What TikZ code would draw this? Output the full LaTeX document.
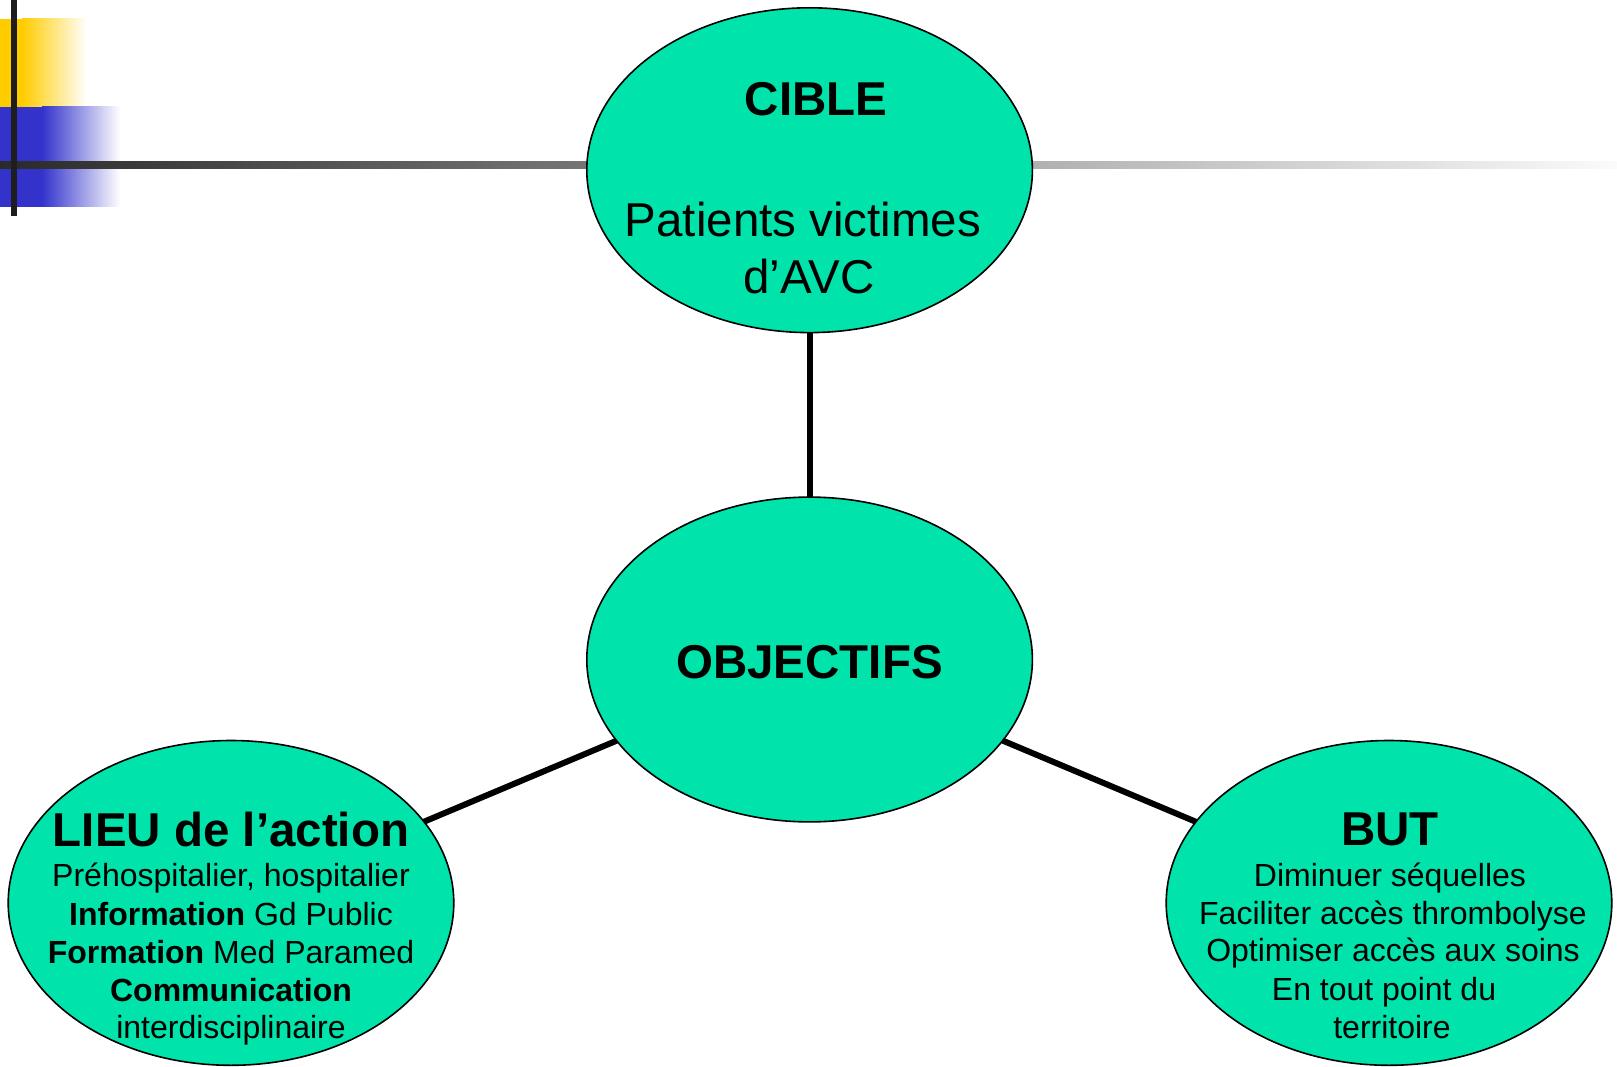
\documentclass[tikz,border=0pt]{standalone}
\usepackage{fontspec}
\setmainfont{Liberation Sans}
\usetikzlibrary{shapes.geometric}
\definecolor{oval}{HTML}{00E3AA}
\definecolor{ybar}{rgb}{1,0.8,0}
\definecolor{bbar}{HTML}{3333CC}
\definecolor{rulel}{HTML}{2A2A2A}
\definecolor{ruler}{HTML}{FBFBFB}
\definecolor{vbar}{HTML}{1E1E1E}
\tikzset{
  bubble/.style={ellipse, draw=black, line width=1.6pt, fill=oval, inner sep=0pt, outer sep=0pt,
    minimum width=445.6pt, minimum height=324.8pt},
  link/.style={line width=6pt, black},
  big/.style={font=\fontsize{47.5}{57}\selectfont\bfseries, anchor=base, inner sep=0pt},
  bigr/.style={font=\fontsize{47.5}{57}\selectfont, anchor=base, inner sep=0pt},
  small/.style={font=\fontsize{32}{38.5}\selectfont, anchor=base, inner sep=0pt}
}
\begin{document}
\begin{tikzpicture}[x=1pt,y=-1pt]
\useasboundingbox (0,0) rectangle (1617,1067);
\fill[white] (0,0) rectangle (1617,1067);
% corner decoration
\shade[left color=ybar, right color=white] (22,19) rectangle (87,107);
\path[fill=ybar] (0,19) rectangle (22.5,107);
\shade[left color=bbar, right color=white] (42,107) rectangle (120,207);
\path[fill=bbar] (0,107) rectangle (42.5,207);
\shade[left color=rulel, right color=ruler] (0,162) rectangle (1617,169);
\fill[vbar] (11,0) rectangle (17,216);
% bubbles
\node[bubble] (cible) at (809.6,170.2) {};
\node[bubble] (obj) at (809.6,659.5) {};
\node[bubble] (lieu) at (231,902.9) {};
\node[bubble] (but) at (1389,902.9) {};
\draw[link] (cible) -- (obj);
\draw[link] (obj) -- (lieu);
\draw[link] (obj) -- (but);
% texts
\node[big] (t1) at (816,115.5) {CIBLE};
\node[bigr] (t2) at (803,237) {Patients victimes};
\node[bigr] (t3) at (809,294) {d’AVC};
\node[big] (t4) at (809.6,678.6) {OBJECTIFS};
\node[big] (l0) at (231,846) {LIEU de l’action};
\node[small] (l1) at (231,886) {Préhospitalier, hospitalier};
\node[small] (l2) at (231,925) {\textbf{Information} Gd Public};
\node[small] (l3) at (231,963) {\textbf{Formation} Med Paramed};
\node[small] (l4) at (231,1001.5) {\textbf{Communication}};
\node[small] (l5) at (231,1038.5) {interdisciplinaire};
\node[big] (b0) at (1390,845) {BUT};
\node[small] (b1) at (1390,886.5) {Diminuer séquelles};
\node[small] (b2) at (1393,924) {Faciliter accès thrombolyse};
\node[small] (b3) at (1393,961.5) {Optimiser accès aux soins};
\node[small] (b4) at (1384,1000) {En tout point du};
\node[small] (b5) at (1392,1038) {territoire};
\end{tikzpicture}
\end{document}
